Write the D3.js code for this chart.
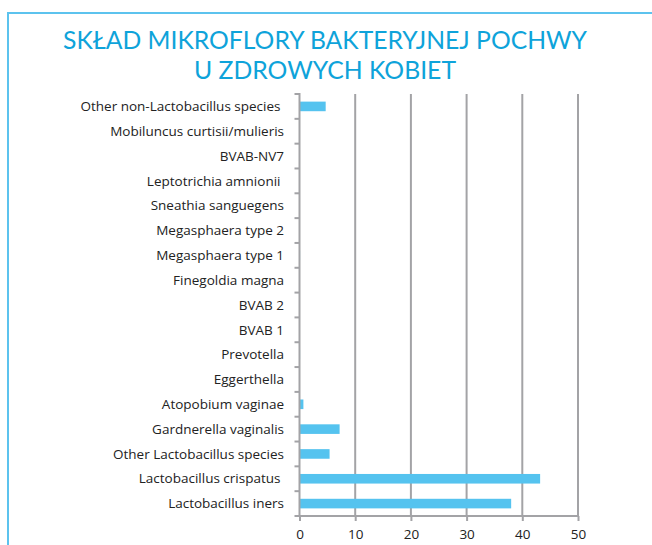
<!DOCTYPE html>
<html>
<head>
<meta charset="utf-8">
<script src="https://cdn.jsdelivr.net/npm/d3@7"></script>
<style>
  body { margin: 0; background: #fff; }
</style>
</head>
<body>
<script>
// data, top to bottom
var categories = [
  "Other non-Lactobacillus species ",
  "Mobiluncus curtisii/mulieris",
  "BVAB-NV7",
  "Leptotrichia amnionii ",
  "Sneathia sanguegens",
  "Megasphaera type 2",
  "Megasphaera type 1",
  "Finegoldia magna",
  "BVAB 2",
  "BVAB 1",
  "Prevotella",
  "Eggerthella",
  "Atopobium vaginae",
  "Gardnerella vaginalis",
  "Other Lactobacillus species",
  "Lactobacillus crispatus ",
  "Lactobacillus iners"
];
var values = [4.7, 0, 0, 0, 0, 0, 0.1, 0, 0, 0, 0.1, 0, 0.7, 7.2, 5.4, 43.2, 38.0];
var xTicks = [0, 10, 20, 30, 40, 50];
var titleLines = ["SKŁAD MIKROFLORY BAKTERYJNEJ POCHWY", "U ZDROWYCH KOBIET"];

var width = 652, height = 545;
var svg = d3.select("body").append("svg")
  .attr("width", width)
  .attr("height", height);

// frame (top and left cyan lines)
svg.append("line").attr("x1", 7).attr("x2", width).attr("y1", 13).attr("y2", 13)
  .style("stroke", "#5cc3ee").style("stroke-width", 2);
svg.append("line").attr("x1", 8).attr("x2", 8).attr("y1", 12).attr("y2", height)
  .style("stroke", "#5cc3ee").style("stroke-width", 2);

// title
svg.selectAll("text.title").data(titleLines).enter().append("text")
  .attr("class", "title")
  .attr("x", 325)
  .attr("y", function (d, i) { return 49 + i * 30; })
  .attr("text-anchor", "middle")
  .attr("textLength", function (d, i) { return i == 0 ? 524 : 262; })
  .attr("lengthAdjust", "spacingAndGlyphs")
  .style("font-family", "Lato, 'Open Sans', sans-serif")
  .style("font-size", "24.5px")
  .style("fill", "#0ea3da")
  .text(function (d) { return d; });

var x = d3.scaleLinear().domain([0, 50]).range([299.5, 578]);
var yb = d3.scaleBand().domain(categories).range([94, 516]);

var grid = "#a3a3a6";

// vertical gridlines
svg.append("g").selectAll("line").data(xTicks.slice(1)).enter().append("line")
  .attr("x1", function (d) { return x(d); })
  .attr("x2", function (d) { return x(d); })
  .attr("y1", 94).attr("y2", 516)
  .style("stroke", grid).style("stroke-width", 2);

// bars
svg.append("g").selectAll("rect").data(values).enter().append("rect")
  .attr("x", x(0))
  .attr("y", function (d, i) { return yb(categories[i]) + yb.bandwidth() / 2 - 4.8; })
  .attr("width", function (d) { return x(d) - x(0); })
  .attr("height", 9.6)
  .style("fill", "#55c3ef");

// x axis
var xAxis = svg.append("g")
  .attr("transform", "translate(0,516)")
  .call(d3.axisBottom(x).tickValues(xTicks).tickSize(5).tickPadding(8).tickFormat(d3.format("d")));
xAxis.select(".domain").attr("d", "M" + x(0) + ",0H" + x(50)).style("stroke", grid).style("stroke-width", 2);
xAxis.selectAll(".tick line").style("stroke", grid).style("stroke-width", 2);
xAxis.selectAll("text")
  .style("font-family", "'Open Sans', sans-serif")
  .style("font-size", "13.5px")
  .style("fill", "#222");

// y axis: ticks on band edges
var edges = categories.map(function (c) { return yb(c); }).concat([516]);
svg.append("line").attr("x1", x(0)).attr("x2", x(0)).attr("y1", 93).attr("y2", 517)
  .style("stroke", grid).style("stroke-width", 2);
svg.append("g").selectAll("line").data(edges).enter().append("line")
  .attr("x1", x(0) - 5).attr("x2", x(0))
  .attr("y1", function (d) { return d; }).attr("y2", function (d) { return d; })
  .style("stroke", grid).style("stroke-width", 2);

svg.append("g").selectAll("text").data(categories).enter().append("text")
  .attr("x", 284)
  .attr("y", function (d) { return yb(d) + yb.bandwidth() / 2; })
  .attr("dy", "0.35em")
  .attr("text-anchor", "end")
  .style("white-space", "pre")
  .style("font-family", "'Open Sans', sans-serif")
  .style("font-size", "13.5px")
  .style("fill", "#222")
  .text(function (d) { return d; });
</script>
</body>
</html>
